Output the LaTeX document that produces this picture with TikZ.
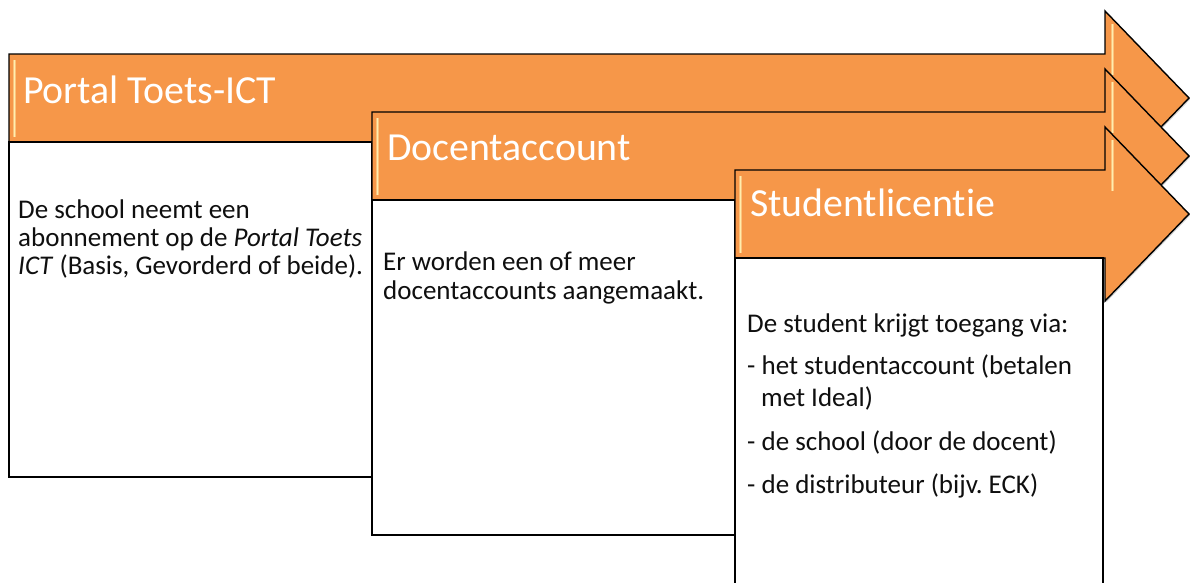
\documentclass[tikz,border=0pt]{standalone}
\usepackage{fontspec}
\setmainfont[Ligatures=NoCommon]{Carlito}
\frenchspacing
\usetikzlibrary{shadows}
\definecolor{orng}{RGB}{246,151,73}
\definecolor{hilite}{RGB}{255,238,175}
\definecolor{txt}{RGB}{15,15,15}
\tikzset{
  arrowshape/.style={fill=orng, draw=black, line width=1.4pt, line join=miter,
    drop shadow={shadow xshift=1.3pt, shadow yshift=-1.3pt, opacity=0.35}},
  boxshape/.style={fill=white, draw=black, line width=1.4pt,
    drop shadow={shadow xshift=1.3pt, shadow yshift=-1.3pt, opacity=0.35}},
  hlstrip/.style={left color=orng, right color=orng, middle color=hilite, draw=none},
  titletext/.style={anchor=base west, text=white, inner sep=0pt,
    font=\fontsize{39.8}{41}\selectfont},
  bodytext/.style={anchor=base west, text=txt, align=left, inner sep=0pt},
}
\newcommand\orangearrow[2]{%
  \draw[arrowshape] (#1,#2) -- (1105,#2) -- (1105,#2-43) -- (1189,#2+44)
    -- (1105,#2+131) -- (1105,#2+88) -- (#1,#2+88) -- cycle;
  \shade[hlstrip] (#1+3,#2+6) rectangle (#1+7,#2+82);
  \shade[hlstrip] (1110,#2-30) rectangle (1114,#2+20);
}
\begin{document}
\begin{tikzpicture}[x=1pt,y=-1pt]
\useasboundingbox (0,0) rectangle (1190,582);
\clip (0,0) rectangle (1190,582);

% stage 1
\orangearrow{9}{54}
\draw[boxshape] (9,142) rectangle (372,477);
\node[titletext] (title1) at (23,103) {Portal Toets-ICT};
\node[bodytext, font=\fontsize{27}{28.3}\selectfont] (body1) at (18,274.6)
  {De school neemt een\\abonnement op de \textit{Portal Toets}\\\textit{ICT} (Basis, Gevorderd of beide).};

% stage 2
\orangearrow{372}{112}
\draw[boxshape] (372,200) rectangle (735,535);
\node[titletext] (title2) at (387,160) {Docentaccount};
\node[bodytext, font=\fontsize{27}{29.5}\selectfont] (body2) at (383,299.5)
  {Er worden een of meer\\docentaccounts aangemaakt.};

% stage 3
\orangearrow{735}{170}
\draw[boxshape] (735,258) rectangle (1103,640);
\node[titletext] (title3) at (750,216) {Studentlicentie};
\node[bodytext, font=\fontsize{27}{32}\selectfont] (body3) at (747,493)
  {De student krijgt toegang via:\\[10.5pt]
   - het studentaccount (betalen\\
   \hspace*{14pt}met Ideal)\\[12pt]
   - de school (door de docent)\\[10.5pt]
   - de distributeur (bijv. ECK)};
\end{tikzpicture}
\end{document}
